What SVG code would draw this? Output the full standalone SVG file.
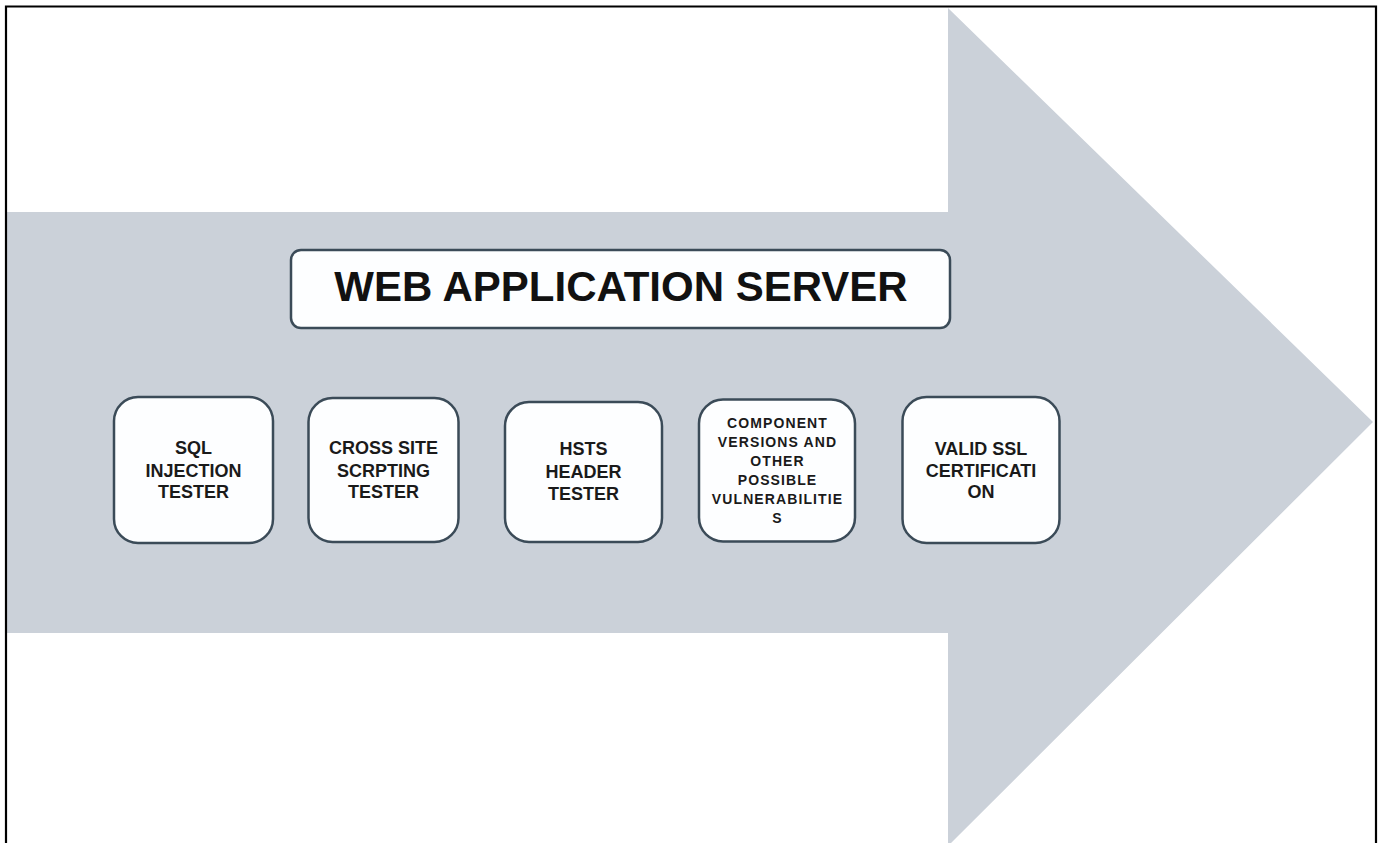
<svg xmlns="http://www.w3.org/2000/svg" width="1381" height="843" viewBox="0 0 1381 843">
<style>
.arrow{fill:#cbd1d9}
.box{fill:#fdfeff;stroke:#3b4b58;stroke-width:2.5}
.t{font-family:"Liberation Sans",Arial,sans-serif;font-weight:bold;fill:#1a1a1a;text-anchor:middle}
.title{font-size:42px;fill:#111}
.lbl{font-size:18px}
.sm{font-size:14px;letter-spacing:1.1px}
</style>
<rect x="0" y="0" width="1381" height="843" fill="#ffffff"/>
<g id="arrow">
<path class="arrow" d="M7 212 H948 V8 L1373 422 L948 846 V633 H7 Z"/>
</g>
<path d="M6 850 V6.5 H1376 V850" fill="none" stroke="#000" stroke-width="2.2"/>
<g id="connectors"></g>
<g id="title">
<rect class="box" x="291" y="250" width="659" height="78" rx="10"/>
<text class="t title" x="621" y="301">WEB APPLICATION SERVER</text>
</g>
<g id="sql">
<rect class="box" x="114" y="397" width="159" height="146" rx="24"/>
<text class="t lbl" x="193.5" y="454">SQL</text>
<text class="t lbl" x="193.5" y="476.5">INJECTION</text>
<text class="t lbl" x="193.5" y="498">TESTER</text>
</g>
<g id="xss">
<rect class="box" x="308.5" y="398" width="150" height="144" rx="24"/>
<text class="t lbl" x="383.5" y="454">CROSS SITE</text>
<text class="t lbl" x="383.5" y="477">SCRPTING</text>
<text class="t lbl" x="383.5" y="498">TESTER</text>
</g>
<g id="hsts">
<rect class="box" x="505" y="402" width="157" height="140" rx="24"/>
<text class="t lbl" x="583.5" y="455">HSTS</text>
<text class="t lbl" x="583.5" y="478">HEADER</text>
<text class="t lbl" x="583.5" y="500">TESTER</text>
</g>
<g id="components">
<rect class="box" x="699" y="399.5" width="156" height="142" rx="24"/>
<text class="t sm" x="777.5" y="427.5">COMPONENT</text>
<text class="t sm" x="777.5" y="446.5">VERSIONS AND</text>
<text class="t sm" x="777.5" y="465.5">OTHER</text>
<text class="t sm" x="777.5" y="484.5">POSSIBLE</text>
<text class="t sm" x="777.5" y="503.5">VULNERABILITIE</text>
<text class="t sm" x="777.5" y="522.5">S</text>
</g>
<g id="ssl">
<rect class="box" x="902.5" y="397" width="157" height="146" rx="24"/>
<text class="t lbl" x="981" y="455">VALID SSL</text>
<text class="t lbl" x="981" y="477">CERTIFICATI</text>
<text class="t lbl" x="981" y="498">ON</text>
</g>
</svg>
